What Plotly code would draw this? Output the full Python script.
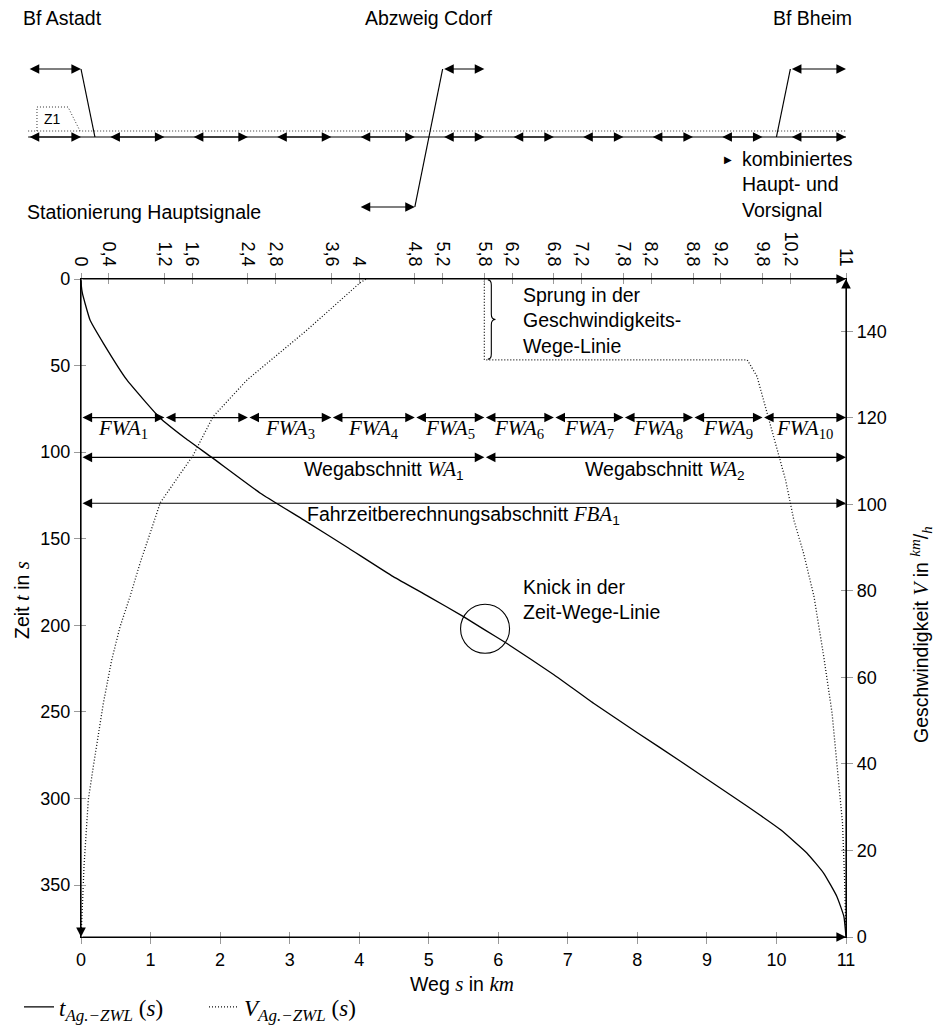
import plotly.graph_objects as go

# ---------------- data ----------------
S_T = [0, 0.005, 0.02, 0.058, 0.13, 0.32, 0.66, 1.13, 1.5, 1.88, 2.58, 3.2, 3.85, 4.49,
       5.0, 5.5, 5.8, 6.12, 6.8, 7.37, 8.0, 8.62, 9.1, 9.58, 10.06, 10.44, 10.68, 10.87, 10.97, 11.0]
T = [0, 4.1, 8.2, 14, 23.7, 37, 58.3, 80, 92, 103, 123.7, 139.1, 155.5, 171.9,
     183.4, 195, 202.5, 210.4, 228.5, 245, 262, 278.5, 291.5, 304.5, 318.1, 331.6, 343.2, 356.7, 368.2, 380]

S_V = [0, 0.01, 0.024, 0.043, 0.072, 0.105, 0.177, 0.249, 0.321, 0.441, 0.561, 0.705, 0.849,
       0.993, 1.14, 1.61, 1.9, 2.39, 3.25, 4.01, 4.6, 5.2, 5.8, 5.8, 9.58, 9.72, 9.96, 10.13,
       10.25, 10.39, 10.54, 10.68, 10.80, 10.87, 10.95, 10.98, 11.0]
V = [0, 3, 8.6, 16.3, 24, 31.7, 39.4, 47.1, 54, 64, 71.7, 78.7, 86.4,
     93.3, 100.4, 111.3, 120.3, 128.8, 140.3, 151.2, 157, 160, 161, 133.4, 133.4, 129.6, 115.7, 105.7,
     96.4, 88.7, 78.7, 64.8, 51.7, 40.1, 26.3, 13.2, 0]

X_TICKS = list(range(0, 12))
T_TICKS = [0, 50, 100, 150, 200, 250, 300, 350]
V_TICKS = [0, 20, 40, 60, 80, 100, 120, 140]
TOP_TICKS = [0, 0.4, 1.2, 1.6, 2.4, 2.8, 3.6, 4, 4.8, 5.2, 5.8, 6.2, 6.8, 7.2, 7.8, 8.2,
             8.8, 9.2, 9.8, 10.2, 11]
TOP_LABELS = [("%g" % v).replace(".", ",") for v in TOP_TICKS]

X_RANGE = [0, 11]
T_RANGE = [380, 0]
V_RANGE = [0, 152.1]

# sections
FWA_BOUNDS = [0, 1.2, 2.4, 3.6, 4.8, 5.8, 6.8, 7.8, 8.8, 9.8, 11]
FWA_NUMS = ["1", "", "3", "4", "5", "6", "7", "8", "9", "10"]
FWA_T = 80
WA_BOUNDS = [0, 5.8, 11]
WA_NUMS = ["1", "2"]
WA_LABEL_X = [4.36, 8.4]
WA_T = 103
FBA_BOUNDS = [0, 11]
FBA_T = 129.5

KNICK = (5.81, 202)
SPRUNG_S = 5.9
SPRUNG_T = (0.5, 46.3)

# schematic (x in km, y as level units of the schematic panel)
STATION_NAMES = ["Bf Astadt", "Abzweig Cdorf", "Bf Bheim"]
STATION_X = [-0.87, 5.0, 10.52]
LEVEL_UPPER, LEVEL_MAIN, LEVEL_DOT, LEVEL_LOWER, LEVEL_Z1 = 69, 137, 131, 207, 107
TRACK_SPAN = [-0.76, 11.0]
MAIN_ARROWS = [(-0.76, 0.0), (0.4, 1.2), (1.6, 2.4), (2.8, 3.6), (4.0, 4.8), (5.2, 5.8),
               (6.2, 6.8), (7.2, 7.8), (8.2, 8.8), (9.2, 9.8), (10.2, 11.0)]
UPPER_ARROWS = [(-0.76, 0.0), (5.2, 5.8), (10.2, 11.0)]
LOWER_ARROWS = [(4.0, 4.8)]
DIAGONALS = [((0.0, LEVEL_UPPER), (0.2, LEVEL_MAIN)),
             ((5.2, LEVEL_UPPER), (4.8, LEVEL_LOWER)),
             ((10.2, LEVEL_UPPER), (10.0, LEVEL_MAIN))]
Z1_X = [-0.633, -0.633, -0.187, -0.014]

# ---------------- layout geometry ----------------
FIG_W, FIG_H = 941, 1025
OFF = 8                      # page offset of the figure (default body margin)
PX_L, PX_R, PX_T, PX_B = 81, 846, 279, 937
KM_PX = (X_RANGE[1] - X_RANGE[0]) / (PX_R - PX_L)
SCH_RANGE_X = [(OFF - PX_L) * KM_PX, (OFF + FIG_W - PX_L) * KM_PX]
SCH_H = 232

def fx(p):
    return (p - OFF) / FIG_W

def fy(p):
    return 1 - (p - OFF) / FIG_H

SANS = "Liberation Sans"
SERIF = "Liberation Serif"
TICKC = "#9a9a9a"
TXT = 19.5
MATH = 21

def m(txt, size=MATH):
    return ("<span style=\"font-family:'%s';font-size:%spx\"><i>%s</i></span>"
            % (SERIF, size, txt))

def arrow(x0, y0, x1, y1, xref, yref, side="end+start"):
    return dict(x=x1, y=y1, ax=x0, ay=y0, xref=xref, yref=yref, axref=xref, ayref=yref,
                text="", showarrow=True, arrowhead=2, startarrowhead=2, arrowsize=1.6,
                startarrowsize=1.6, arrowwidth=1.2, arrowside=side, arrowcolor="black",
                standoff=0, startstandoff=0)

fig = go.Figure()
fig.add_trace(go.Scatter(x=S_T, y=T, mode="lines", xaxis="x", yaxis="y",
                         line=dict(color="black", width=1.3, shape="spline", smoothing=0.4),
                         name=m("t", 23) + "<sub>" + m("Ag.−ZWL", 17) + "</sub> (" + m("s", 23) + ")"))
fig.add_trace(go.Scatter(x=S_V, y=V, mode="lines", xaxis="x", yaxis="y2",
                         line=dict(color="#111111", width=1.3, dash="1px,2px"),
                         name=m("V", 23) + "<sub>" + m("Ag.−ZWL", 17) + "</sub> (" + m("s", 23) + ")"))
# invisible anchors so that the overlay axes get drawn
for xa, ya, yv in [("x2", "y", 0), ("x4", "y", 0), ("x5", "y", 0), ("x", "y4", 0), ("x", "y5", 0),
                   ("x3", "y3", 100)]:
    fig.add_trace(go.Scatter(x=[5], y=[yv], xaxis=xa, yaxis=ya, mode="markers",
                             marker=dict(opacity=0, size=1), showlegend=False, hoverinfo="skip"))

ann = []
shapes = []

# axis arrows
ann.append(arrow(X_RANGE[0], T_RANGE[0], X_RANGE[1], T_RANGE[0], "x", "y", "end"))
ann.append(arrow(X_RANGE[0], T_RANGE[1], X_RANGE[1], T_RANGE[1], "x", "y", "end"))
ann.append(arrow(X_RANGE[0], T_RANGE[1], X_RANGE[0], T_RANGE[0], "x", "y", "end"))
ann.append(arrow(X_RANGE[1], V_RANGE[0], X_RANGE[1], V_RANGE[1], "x", "y2", "end"))

# FWA / WA / FBA arrows
for i in range(len(FWA_BOUNDS) - 1):
    a, b = FWA_BOUNDS[i], FWA_BOUNDS[i + 1]
    ann.append(arrow(a, FWA_T, b, FWA_T, "x", "y"))
    if FWA_NUMS[i]:
        ann.append(dict(x=(a + b) / 2, y=FWA_T + 6.5, xref="x", yref="y", showarrow=False,
                        text=m("FWA") + "<sub>" + FWA_NUMS[i] + "</sub>",
                        font=dict(family=SERIF, size=MATH, color="black"), yanchor="middle"))
for i in range(len(WA_BOUNDS) - 1):
    a, b = WA_BOUNDS[i], WA_BOUNDS[i + 1]
    ann.append(arrow(a, WA_T, b, WA_T, "x", "y"))
    ann.append(dict(x=WA_LABEL_X[i], y=WA_T + 7.5, xref="x", yref="y", showarrow=False,
                    text="Wegabschnitt " + m("WA") + "<sub>" + WA_NUMS[i] + "</sub>",
                    font=dict(family=SANS, size=TXT, color="black"), yanchor="middle"))
ann.append(arrow(FBA_BOUNDS[0], FBA_T, FBA_BOUNDS[1], FBA_T, "x", "y"))
ann.append(dict(x=(FBA_BOUNDS[0] + FBA_BOUNDS[1]) / 2, y=FBA_T + 7, xref="x", yref="y",
                showarrow=False,
                text="Fahrzeitberechnungsabschnitt " + m("FBA") + "<sub>1</sub>",
                font=dict(family=SANS, size=TXT, color="black"), yanchor="middle"))

# Knick circle + text
rx = 24.5 * KM_PX
rt = 24.5 * (T_RANGE[0] - T_RANGE[1]) / (PX_B - PX_T)
shapes.append(dict(type="circle", xref="x", yref="y", x0=KNICK[0] - rx, x1=KNICK[0] + rx,
                   y0=KNICK[1] - rt, y1=KNICK[1] + rt, line=dict(color="black", width=1.1)))
ann.append(dict(x=6.32, y=184.8, xref="x", yref="y", showarrow=False, xanchor="left",
                align="left", text="Knick in der<br>Zeit-Wege-Linie",
                font=dict(family=SANS, size=TXT, color="black")))

# Sprung brace + text
xl, xs, xt = SPRUNG_S - 0.05, SPRUNG_S, SPRUNG_S + 0.06
t0, t1 = SPRUNG_T
tm = (t0 + t1) / 2
r = 3
brace = (f"M {xl},{t0} Q {xs},{t0} {xs},{t0 + r} L {xs},{tm - r} Q {xs},{tm} {xt},{tm} "
         f"Q {xs},{tm} {xs},{tm + r} L {xs},{t1 - r} Q {xs},{t1} {xl},{t1}")
shapes.append(dict(type="path", xref="x", yref="y", path=brace,
                   line=dict(color="black", width=1.1)))
ann.append(dict(x=6.32, y=23.7, xref="x", yref="y", showarrow=False, xanchor="left",
                align="left", text="Sprung in der<br>Geschwindigkeits-<br>Wege-Linie",
                font=dict(family=SANS, size=TXT, color="black")))

# ---------------- schematic ----------------
XR, YR = "x3", "y3"
for name, sx in zip(STATION_NAMES, STATION_X):
    ann.append(dict(x=sx, y=18, xref=XR, yref=YR, showarrow=False, text=name,
                    xanchor="left" if sx < 0 else "center",
                    font=dict(family=SANS, size=TXT, color="black")))
shapes.append(dict(type="line", xref=XR, yref=YR, x0=TRACK_SPAN[0], x1=TRACK_SPAN[1],
                   y0=LEVEL_MAIN, y1=LEVEL_MAIN, line=dict(color="black", width=1.2)))
shapes.append(dict(type="line", xref=XR, yref=YR, x0=TRACK_SPAN[0], x1=TRACK_SPAN[1],
                   y0=LEVEL_DOT, y1=LEVEL_DOT, line=dict(color="#333333", width=1, dash="1px,2px")))
z1_path = (f"M {Z1_X[0]},{LEVEL_DOT} L {Z1_X[1]},{LEVEL_Z1} L {Z1_X[2]},{LEVEL_Z1} "
           f"L {Z1_X[3]},{LEVEL_DOT}")
shapes.append(dict(type="path", xref=XR, yref=YR, path=z1_path,
                   line=dict(color="#333333", width=1, dash="1px,2px")))
ann.append(dict(x=(Z1_X[0] + Z1_X[2]) / 2, y=(LEVEL_Z1 + LEVEL_DOT) / 2, xref=XR, yref=YR,
                showarrow=False, text="Z1", font=dict(family=SANS, size=14, color="black")))
for a, b in MAIN_ARROWS:
    ann.append(arrow(a, LEVEL_MAIN, b, LEVEL_MAIN, XR, YR))
for a, b in UPPER_ARROWS:
    ann.append(arrow(a, LEVEL_UPPER, b, LEVEL_UPPER, XR, YR))
for a, b in LOWER_ARROWS:
    ann.append(arrow(a, LEVEL_LOWER, b, LEVEL_LOWER, XR, YR))
for (p0, p1) in DIAGONALS:
    shapes.append(dict(type="line", xref=XR, yref=YR, x0=p0[0], y0=p0[1], x1=p1[0], y1=p1[1],
                       line=dict(color="black", width=1.2)))
ann.append(dict(x=9.30, y=159, xref=XR, yref=YR, showarrow=False, text="▶",
                font=dict(family="DejaVu Sans", size=10, color="black")))
ann.append(dict(x=9.48, y=184, xref=XR, yref=YR, showarrow=False, xanchor="left",
                align="left", text="kombiniertes<br>Haupt- und<br>Vorsignal",
                font=dict(family=SANS, size=TXT, color="black")))
ann.append(dict(x=-0.81, y=212, xref=XR, yref=YR, showarrow=False, xanchor="left",
                text="Stationierung Hauptsignale",
                font=dict(family=SANS, size=TXT, color="black")))

# axis titles
ann.append(dict(x=fx(22), y=fy(600), xref="paper", yref="paper", showarrow=False,
                xanchor="center", yanchor="middle",
                textangle=-90, text="Zeit " + m("t") + " in " + m("s"),
                font=dict(family=SANS, size=TXT, color="black")))
ann.append(dict(x=fx(462), y=fy(984), xref="paper", yref="paper", showarrow=False,
                xanchor="center", yanchor="middle",
                text="Weg " + m("s") + " in " + m("km"),
                font=dict(family=SANS, size=TXT, color="black")))
ann.append(dict(x=fx(921), y=fy(635), xref="paper", yref="paper", showarrow=False,
                xanchor="center", yanchor="middle",
                textangle=-90,
                text="Geschwindigkeit " + m("V") + " in <sup>" + m("km", 15) + "</sup>/<sub>"
                     + m("h", 15) + "</sub>",
                font=dict(family=SANS, size=TXT, color="black")))

XD = [fx(PX_L), fx(PX_R)]
YD = [fy(PX_B), fy(PX_T)]
tickfont = dict(family=SANS, size=18, color="black")
common = dict(showgrid=False, zeroline=False, fixedrange=True)

fig.update_layout(
    width=FIG_W, height=FIG_H,
    margin=dict(l=0, r=0, t=0, b=0, pad=0, autoexpand=False),
    plot_bgcolor="white", paper_bgcolor="white",
    showlegend=True,
    legend=dict(orientation="h", x=fx(19), y=fy(1007), xanchor="left", yanchor="middle",
                entrywidth=140, entrywidthmode="pixels",
                font=dict(family=SERIF, size=23, color="black"), bgcolor="rgba(0,0,0,0)"),
    xaxis=dict(domain=XD, range=X_RANGE, anchor="y", side="bottom", tickvals=X_TICKS,
               ticks="outside", ticklen=6, tickcolor=TICKC, showline=True, linecolor="black",
               linewidth=1.2, tickfont=tickfont, **common),
    xaxis2=dict(domain=XD, range=X_RANGE, anchor="y", overlaying="x", side="top",
                tickvals=TOP_TICKS, ticktext=TOP_LABELS, tickangle=90, ticks="outside",
                ticklen=5, tickcolor=TICKC, showline=True, linecolor="black", linewidth=1.2,
                tickfont=tickfont, **common),
    xaxis4=dict(domain=XD, range=X_RANGE, anchor="y", overlaying="x", side="bottom",
                tickvals=X_TICKS, ticks="inside", ticklen=5, tickcolor=TICKC,
                showticklabels=False, showline=False, **common),
    xaxis5=dict(domain=XD, range=X_RANGE, anchor="y", overlaying="x", side="top",
                tickvals=TOP_TICKS, ticks="inside", ticklen=5, tickcolor=TICKC,
                showticklabels=False, showline=False, **common),
    yaxis=dict(domain=YD, range=T_RANGE, anchor="x", side="left", tickvals=T_TICKS,
               ticks="outside", ticklen=6, tickcolor=TICKC, showline=True, linecolor="black",
               linewidth=1.2, tickfont=tickfont, **common),
    yaxis2=dict(domain=YD, range=V_RANGE, anchor="x", overlaying="y", side="right",
                tickvals=V_TICKS, ticks="outside", ticklen=6, tickcolor=TICKC, showline=True,
                linecolor="black", linewidth=1.2, tickfont=tickfont, **common),
    yaxis4=dict(domain=YD, range=T_RANGE, anchor="x", overlaying="y", side="left",
                tickvals=T_TICKS, ticks="inside", ticklen=5, tickcolor=TICKC,
                showticklabels=False, showline=False, **common),
    yaxis5=dict(domain=YD, range=V_RANGE, anchor="x", overlaying="y", side="right",
                tickvals=V_TICKS, ticks="inside", ticklen=5, tickcolor=TICKC,
                showticklabels=False, showline=False, **common),
    xaxis3=dict(domain=[0, 1], range=SCH_RANGE_X, anchor="y3", showticklabels=False,
                ticks="", showline=False, **common),
    yaxis3=dict(domain=[fy(SCH_H), 1], range=[SCH_H, OFF], anchor="x3", showticklabels=False,
                ticks="", showline=False, **common),
    annotations=ann,
    shapes=shapes,
)

fig.write_html("out.html")
